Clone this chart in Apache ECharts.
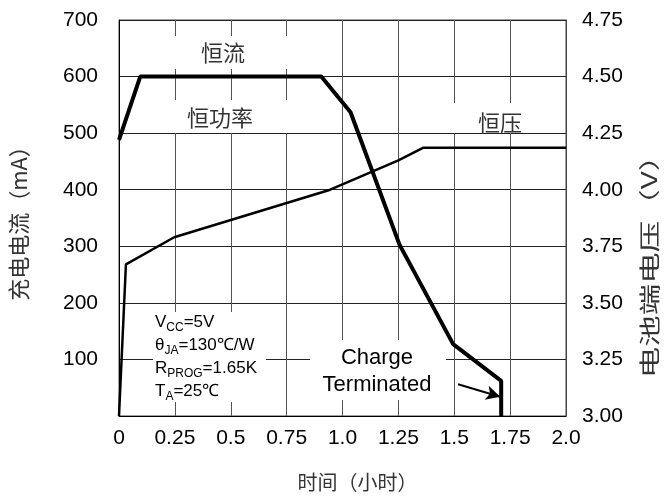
<!DOCTYPE html>
<html>
<head>
<meta charset="utf-8">
<script src="https://cdn.jsdelivr.net/npm/echarts@6/dist/echarts.min.js"></script>
<style>
html,body{margin:0;padding:0;background:#fff;}
#c{width:664px;height:499px;}
</style>
</head>
<body>
<div id="c"></div>
<script>
// ---- data ----
var xTickLabels = ['0','0.25','0.5','0.75','1.0','1.25','1.5','1.75','2.0'];
var currentX = [0, 0.095, 0.905, 1.036, 1.255, 1.495, 1.71, 1.71];
var currentY = [488, 600, 600, 537, 303, 127, 62, 0];
var voltageX = [0, 0.031, 0.247, 0.945, 1.25, 1.36, 2.0];
var voltageY = [3.0, 3.67, 3.79, 4.0, 4.13, 4.185, 4.185];
var arrowFrom = [1.517, 56];
var arrowTo = [1.705, 34];

function pairs(xs, ys){ return xs.map(function(x,i){ return [x, ys[i]]; }); }

var CJK = '"Noto Sans CJK SC", sans-serif';
var LAT = '"Liberation Sans", Arial, sans-serif';

var chart = echarts.init(document.getElementById('c'));
var option = {
  backgroundColor: '#fff',
  animation: false,
  grid: {left: 118, right: 98, top: 20, bottom: 83, show: true, borderColor: '#444', borderWidth: 1},
  xAxis: {
    type: 'value', min: 0, max: 2, interval: 0.25,
    name: '时间（小时）', nameLocation: 'middle', nameGap: 56,
    nameTextStyle: {fontFamily: CJK, fontSize: 20, color: '#333', padding: [0,0,0,30]},
    axisLine: {show: true, lineStyle: {color: '#000', width: 1}},
    axisTick: {show: false},
    axisLabel: {margin: 12, color: '#000', fontFamily: LAT, fontSize: 21,
      formatter: function(v){ return xTickLabels[Math.round(v/0.25)]; }},
    splitLine: {show: true, lineStyle: {color: '#555', width: 1}}
  },
  yAxis: [{
    type: 'value', min: 0, max: 700, interval: 100,
    name: '充电电流（mA）', nameLocation: 'middle', nameGap: 89, nameRotate: 90,
    nameTextStyle: {fontFamily: CJK, fontSize: 22, color: '#333'},
    axisLine: {show: true, lineStyle: {color: '#000', width: 1}},
    axisTick: {show: false},
    axisLabel: {margin: 21, color: '#000', fontFamily: LAT, fontSize: 21,
      formatter: function(v){ return v === 0 ? '' : String(v); }},
    splitLine: {show: true, lineStyle: {color: '#222', width: 1}}
  }, {
    type: 'value', min: 3, max: 4.75, interval: 0.25, position: 'right',
    axisLine: {show: true, lineStyle: {color: '#444', width: 1}},
    axisTick: {show: false},
    axisLabel: {margin: 16, color: '#000', fontFamily: LAT, fontSize: 21,
      formatter: function(v){ return v.toFixed(2); }},
    splitLine: {show: false}
  }],
  series: [{
    type: 'line', yAxisIndex: 0, data: pairs(currentX, currentY),
    symbol: 'none', lineStyle: {color: '#000', width: 4}, z: 5,
    markLine: {
      silent: true, symbol: ['none', 'arrow'], symbolSize: [11, 14],
      label: {show: false}, lineStyle: {color: '#000', width: 2, type: 'solid'},
      data: [[{coord: arrowFrom}, {coord: arrowTo}]]
    }
  }, {
    type: 'line', yAxisIndex: 1, data: pairs(voltageX, voltageY),
    symbol: 'none', lineStyle: {color: '#000', width: 2.5}, z: 4
  }],
  graphic: [
    {type: 'rect', z: 1, shape: {x: 160, y: 36, width: 140, height: 33}, style: {fill: '#fff'}},
    {type: 'rect', z: 1, shape: {x: 160, y: 100, width: 140, height: 33}, style: {fill: '#fff'}},
    {type: 'rect', z: 1, shape: {x: 443, y: 103, width: 115, height: 30}, style: {fill: '#fff'}},
    {type: 'rect', z: 1, shape: {x: 153, y: 312, width: 113, height: 90}, style: {fill: '#fff'}},
    {type: 'rect', z: 1, shape: {x: 310, y: 340, width: 136, height: 60}, style: {fill: '#fff'}},
    {type: 'text', z: 10, x: 223, y: 53, style: {text: '恒流', font: '22px ' + CJK, fill: '#333', align: 'center', verticalAlign: 'middle'}},
    {type: 'text', z: 10, x: 220, y: 118, style: {text: '恒功率', font: '22px ' + CJK, fill: '#333', align: 'center', verticalAlign: 'middle'}},
    {type: 'text', z: 10, x: 500, y: 123, style: {text: '恒压', font: '22px ' + CJK, fill: '#333', align: 'center', verticalAlign: 'middle'}},
    {type: 'text', z: 10, x: 155, y: 311, style: {
      text: 'V{s|CC}=5V\nθ{s|JA}=130℃/W\nR{s|PROG}=1.65K\nT{s|A}=25℃',
      font: '17px ' + LAT, fill: '#000', lineHeight: 23, align: 'left', verticalAlign: 'top',
      rich: {s: {fontSize: 12, fontFamily: LAT, fill: '#000', verticalAlign: 'bottom', lineHeight: 23}}
    }},
    {type: 'text', z: 10, x: 377, y: 371, style: {text: 'Charge\nTerminated', font: '22px ' + LAT, fill: '#000', lineHeight: 27, align: 'center', verticalAlign: 'middle'}},
    {type: 'text', z: 10, x: 649, y: 259, rotation: Math.PI / 2, scaleX: 1.5, scaleY: 1,
      style: {text: '电池端电压（V）', font: '21px ' + CJK, fill: '#333', align: 'center', verticalAlign: 'middle'}}
  ]
};
chart.setOption(option);
</script>
</body>
</html>
